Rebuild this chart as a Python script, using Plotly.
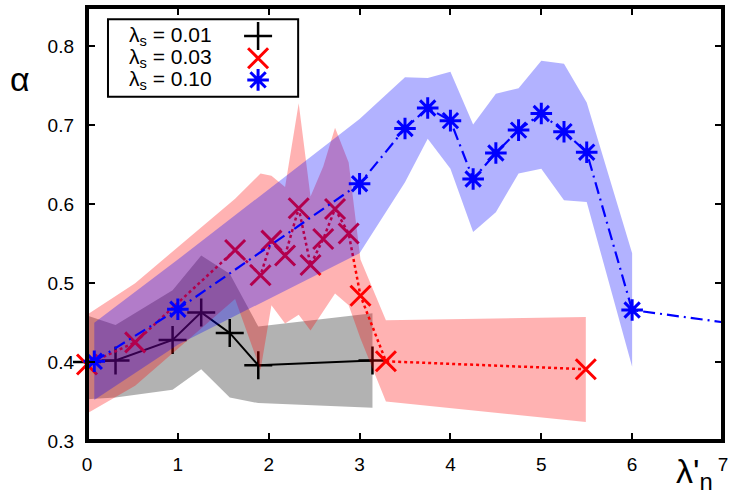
import plotly.graph_objects as go

# ---------------- data ----------------
# lambda_s = 0.01 (black)
x_001 = [0.0, 0.314, 0.942, 1.257, 1.571, 1.885, 3.142]
y_001 = [0.400, 0.402, 0.428, 0.463, 0.437, 0.396, 0.402]
lo_001 = [0.353, 0.355, 0.365, 0.391, 0.355, 0.348, 0.342]
hi_001 = [0.459, 0.447, 0.491, 0.535, 0.512, 0.445, 0.462]

# lambda_s = 0.03 (red)
x_003 = [0.0, 0.53, 1.63, 1.91, 2.03, 2.18, 2.33, 2.46, 2.60, 2.73, 2.88, 3.01, 3.29, 5.49]
y_003 = [0.397, 0.425, 0.542, 0.510, 0.554, 0.535, 0.595, 0.523, 0.556, 0.594, 0.563, 0.484, 0.401, 0.391]
lo_003 = [0.335, 0.370, 0.480, 0.390, 0.472, 0.449, 0.460, 0.440, 0.465, 0.487, 0.472, 0.430, 0.350, 0.324]
hi_003 = [0.460, 0.500, 0.607, 0.639, 0.636, 0.622, 0.728, 0.610, 0.648, 0.697, 0.653, 0.530, 0.453, 0.457]

# lambda_s = 0.10 (blue)
x_010 = [0.08, 1.0, 3.0, 3.5, 3.75, 4.0, 4.25, 4.5, 4.75, 5.0, 5.25, 5.5, 6.0, 8.0]
y_010 = [0.401, 0.467, 0.626, 0.696, 0.722, 0.706, 0.632, 0.665, 0.694, 0.715, 0.692, 0.666, 0.466, 0.435]
xb_010 = [0.08, 1.0, 3.0, 3.5, 3.75, 4.0, 4.25, 4.5, 4.75, 5.0, 5.25, 5.5, 6.0]
lo_010 = [0.352, 0.422, 0.538, 0.628, 0.683, 0.645, 0.565, 0.590, 0.639, 0.645, 0.605, 0.603, 0.394]
hi_010 = [0.450, 0.530, 0.708, 0.761, 0.760, 0.768, 0.701, 0.740, 0.747, 0.782, 0.778, 0.729, 0.538]

x_ticks = [0, 1, 2, 3, 4, 5, 6, 7]
y_ticks = [0.3, 0.4, 0.5, 0.6, 0.7, 0.8]
legend_labels = ["λ<sub>s</sub> = 0.01", "λ<sub>s</sub> = 0.03", "λ<sub>s</sub> = 0.10"]

FONT = "Liberation Sans, Arial, Helvetica, sans-serif"


def band(xs, lo, hi, color):
    return go.Scatter(
        x=list(xs) + list(xs)[::-1],
        y=list(hi) + list(lo)[::-1],
        fill="toself", fillcolor=color, mode="lines",
        line=dict(width=0, color="rgba(0,0,0,0)"),
        hoverinfo="skip", showlegend=False,
    )


fig = go.Figure()

# gray band + black line
fig.add_trace(band(x_001, lo_001, hi_001, "rgba(0,0,0,0.3)"))
fig.add_trace(go.Scatter(
    x=x_001, y=y_001, mode="lines+markers", cliponaxis=False,
    line=dict(color="black", width=2),
    marker=dict(symbol="cross-thin", size=20, line=dict(color="black", width=2.5)),
    showlegend=False))

# red band + red dotted line
fig.add_trace(band(x_003, lo_003, hi_003, "rgba(255,0,0,0.3)"))
fig.add_trace(go.Scatter(
    x=x_003, y=y_003, mode="lines+markers", cliponaxis=False,
    line=dict(color="red", width=2.5, dash="dot"),
    marker=dict(symbol="x-thin", size=20, line=dict(color="red", width=3)),
    showlegend=False))

# blue band + blue dash-dot line
fig.add_trace(band(xb_010, lo_010, hi_010, "rgba(0,0,255,0.3)"))
fig.add_trace(go.Scatter(
    x=x_010, y=y_010, mode="lines+markers", cliponaxis=False,
    line=dict(color="blue", width=2.2, dash="12px,5px,2px,5px"),
    marker=dict(symbol="asterisk", size=18, line=dict(color="blue", width=3)),
    showlegend=False))

# ---------- custom legend (text left, symbol right) on an overlay axis ----------
leg_rows = [0.933, 0.882, 0.832]
leg_sym_x = 0.269
leg_styles = [
    dict(symbol="cross-thin", size=20, line=dict(color="black", width=2.5)),
    dict(symbol="x-thin", size=20, line=dict(color="red", width=3)),
    dict(symbol="asterisk", size=18, line=dict(color="blue", width=3)),
]
for yy, st in zip(leg_rows, leg_styles):
    fig.add_trace(go.Scatter(x=[leg_sym_x], y=[yy], xaxis="x2", yaxis="y2",
                             mode="markers", marker=st, showlegend=False,
                             hoverinfo="skip", cliponaxis=False))

annotations = []
for yy, lab in zip(leg_rows, legend_labels):
    annotations.append(dict(x=0.063, y=yy, xref="paper", yref="paper", text=lab,
                            showarrow=False, xanchor="left", yanchor="middle",
                            font=dict(family=FONT, size=21, color="black")))
annotations.append(dict(x=-0.105, y=0.835, xref="paper", yref="paper", text="α",
                        showarrow=False, xanchor="center", yanchor="middle",
                        font=dict(family=FONT, size=34, color="black")))
annotations.append(dict(x=0.955, y=-0.075, xref="paper", yref="paper",
                        text="λ'<sub>n</sub>", showarrow=False,
                        xanchor="center", yanchor="middle",
                        font=dict(family=FONT, size=34, color="black")))

shapes = [
    dict(type="rect", xref="paper", yref="paper", x0=0, x1=1, y0=0, y1=1,
         line=dict(color="black", width=4), layer="above"),
    dict(type="rect", xref="paper", yref="paper", x0=0.033, x1=0.332, y0=0.793, y1=0.972,
         line=dict(color="black", width=2), layer="above"),
]

fig.update_layout(
    width=733, height=501,
    margin=dict(l=87, r=10, t=7, b=60, autoexpand=False),
    paper_bgcolor="white", plot_bgcolor="white",
    font=dict(family=FONT, size=18, color="black"),
    showlegend=False,
    xaxis=dict(range=[0, 7], tickvals=x_ticks, ticks="inside", ticklen=8, tickwidth=2,
               tickcolor="black", mirror="ticks", showline=False, showgrid=False,
               zeroline=False, ticklabelstandoff=10, automargin=False,
               tickfont=dict(family=FONT, size=19, color="black")),
    yaxis=dict(range=[0.3, 0.85], tickvals=y_ticks, ticktext=[f"{v:.1f}" for v in y_ticks],
               ticks="inside", ticklen=8, tickwidth=2, tickcolor="black", mirror="ticks",
               showline=False, showgrid=False, zeroline=False, ticklabelstandoff=12,
               automargin=False,
               tickfont=dict(family=FONT, size=19, color="black")),
    xaxis2=dict(range=[0, 1], overlaying="x", visible=False, fixedrange=True),
    yaxis2=dict(range=[0, 1], overlaying="y", visible=False, fixedrange=True),
    shapes=shapes,
    annotations=annotations,
)

fig.write_html("out.html",
               config={"displayModeBar": False},
               post_script="document.body.style.margin='0';document.body.style.padding='0';")
